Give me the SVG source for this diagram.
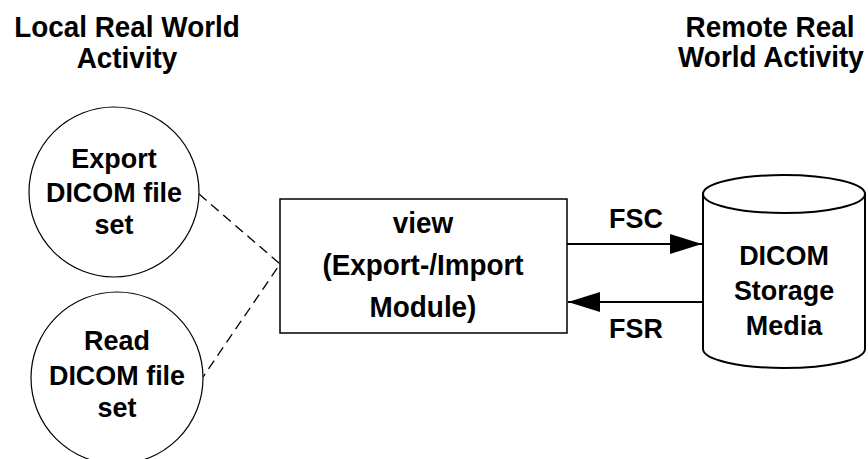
<svg xmlns="http://www.w3.org/2000/svg" width="868" height="459" viewBox="0 0 868 459">
<style>
text{font-family:"Liberation Sans",Arial,sans-serif;font-weight:bold;fill:#000;text-anchor:middle}
.h{font-size:29.5px}
.t{font-size:28.5px}
.b{font-size:29.5px}
.shape{fill:#fff;stroke:#000}
.dash{fill:none;stroke:#000;stroke-width:1.3;stroke-dasharray:10,6}
.arr{fill:none;stroke:#000;stroke-width:2}
</style>
<defs>
<marker id="ah" viewBox="0 0 32 20" refX="32" refY="10" markerWidth="32" markerHeight="20" markerUnits="userSpaceOnUse" orient="auto">
<path d="M0,0 L32,10 L0,20 Z" fill="#000"/>
</marker>
</defs>
<rect width="868" height="459" fill="#fff"/>
<g id="header-local" transform="translate(127,0) scale(0.945,1)">
<text class="h" x="0" y="37">Local Real World</text>
<text class="h" x="0" y="68">Activity</text>
</g>
<g id="header-remote" transform="translate(770,0) scale(0.945,1)">
<text class="h" x="0" y="37">Remote Real</text>
<text class="h" x="1" y="67">World Activity</text>
</g>
<g id="connectors">
<path class="dash" d="M199,194 L280,264 L203,377"/>
<path class="arr" d="M567,244 L702,244" marker-end="url(#ah)"/>
<path class="arr" d="M702,302 L568,302" marker-end="url(#ah)"/>
<g transform="translate(636,0) scale(0.945,1)">
<text class="t" x="0" y="228">FSC</text>
<text class="t" x="0" y="338">FSR</text>
</g>
</g>
<g id="export">
<circle class="shape" cx="114" cy="192" r="85" stroke-width="1.2"/>
<g transform="translate(114,0) scale(0.945,1)">
<text class="t" x="0" y="168">Export</text>
<text class="t" x="0" y="202">DICOM file</text>
<text class="t" x="0" y="234">set</text>
</g>
</g>
<g id="read">
<circle class="shape" cx="117" cy="378" r="86" stroke-width="1.2"/>
<g transform="translate(117,0) scale(0.945,1)">
<text class="t" x="0" y="350">Read</text>
<text class="t" x="0" y="385">DICOM file</text>
<text class="t" x="0" y="417">set</text>
</g>
</g>
<g id="view">
<rect class="shape" x="280" y="199" width="287" height="134" stroke-width="1.5"/>
<g transform="translate(423,0) scale(0.945,1)">
<text class="b" x="0" y="233">view</text>
<text class="b" x="0" y="275">(Export-/Import</text>
<text class="b" x="0" y="317">Module)</text>
</g>
</g>
<g id="storage">
<path class="shape" stroke-width="2" d="M703,194 L703,349 A81,19 0 0 0 865,349 L865,194 A81,19 0 0 0 703,194 Z"/>
<path fill="none" stroke="#000" stroke-width="2" d="M703,194 A81,19 0 0 0 865,194"/>
<g transform="translate(784,0) scale(0.945,1)">
<text class="t" x="0" y="265">DICOM</text>
<text class="t" x="0" y="300">Storage</text>
<text class="t" x="0" y="335">Media</text>
</g>
</g>
</svg>
